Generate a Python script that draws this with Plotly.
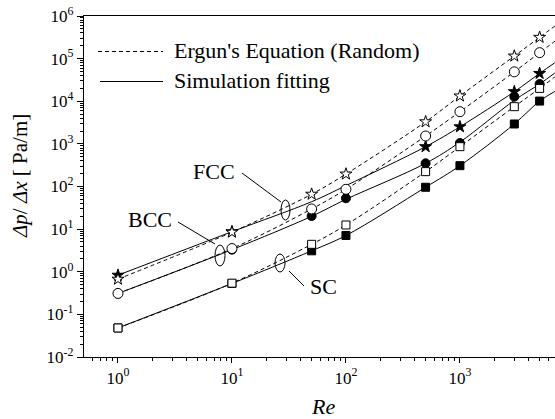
import plotly.graph_objects as go

# Reynolds numbers of the measured / computed points
re_pts = [1, 10, 50, 100, 500, 1000, 3000, 5000]

# Ergun's equation (random packing), open markers
fcc_ergun = [0.67, 8.5, 66, 196, 3300, 13300, 115000, 316000]
bcc_ergun = [0.31, 3.5, 29.7, 86, 1530, 5690, 49000, 138000]
sc_ergun = [0.048, 0.54, 4.4, 12.5, 223, 860, 7460, 20000]

# Simulation results, filled markers
fcc_sim = [0.83, 8.7, None, None, 860, 2520, 16800, 45000]
bcc_sim = [0.31, 3.3, 20.3, 53, 350, 1050, 12800, 25400]
sc_sim = [0.048, 0.53, 3.1, 7.1, 96, 308, 2930, 10100]

# Curves (extend a little past the last point)
re_line = [1, 10, 50, 100, 500, 1000, 3000, 5000, 6800]
fcc_ergun_line = fcc_ergun + [580000]
bcc_ergun_line = bcc_ergun + [255000]
sc_ergun_line = sc_ergun + [37000]
fcc_sim_line = [0.83, 8.7, 44, 105, 860, 2520, 16800, 45000, 80000]
bcc_sim_line = [0.31, 3.3, 20, 50, 350, 1100, 10500, 25400, 46000]
sc_sim_line = [0.048, 0.53, 3.1, 7.1, 96, 308, 2930, 10100, 17000]

# Tick labels
x_tickvals = [1, 10, 100, 1000]
x_ticktext = ["10<sup>0</sup>", "10<sup>1</sup>", "10<sup>2</sup>", "10<sup>3</sup>"]
y_tickvals = [1e-2, 1e-1, 1, 10, 100, 1e3, 1e4, 1e5, 1e6]
y_ticktext = ["10<sup>-2</sup>", "10<sup>-1</sup>", "10<sup>0</sup>", "10<sup>1</sup>",
              "10<sup>2</sup>", "10<sup>3</sup>", "10<sup>4</sup>", "10<sup>5</sup>",
              "10<sup>6</sup>"]

W, H = 555, 419
ML, MR, MT, MB = 84, 0, 16, 62
PW, PH = W - ML - MR, H - MT - MB
FONT = "Liberation Serif"
TXT = 22


def px(x):
    return (x - ML) / PW


def py(y):
    return (H - MB - y) / PH


fig = go.Figure()

dash = "4px,3px"
for ys, style in [(fcc_ergun_line, dash), (bcc_ergun_line, dash), (sc_ergun_line, dash),
                  (fcc_sim_line, "solid"), (bcc_sim_line, "solid"), (sc_sim_line, "solid")]:
    fig.add_trace(go.Scatter(x=re_line, y=ys, mode="lines",
                             line=dict(color="black", width=1, dash=style, shape="spline"),
                             hoverinfo="skip"))

# filled markers first, open markers drawn over them
for ys, sym, size in [(fcc_sim, "star", 9), (bcc_sim, "circle", 9), (sc_sim, "square", 8)]:
    fig.add_trace(go.Scatter(x=re_pts, y=ys, mode="markers",
                             marker=dict(symbol=sym, size=size, color="black",
                                         line=dict(color="black", width=1))))
for ys, sym, size in [(fcc_ergun, "star", 9), (bcc_ergun, "circle", 10), (sc_ergun, "square", 8)]:
    fig.add_trace(go.Scatter(x=re_pts, y=ys, mode="markers",
                             marker=dict(symbol=sym, size=size, color="white",
                                         line=dict(color="black", width=1))))

minor_x = [m * 10 ** e for e in range(-1, 4) for m in range(2, 10)]
minor_y = [m * 10.0 ** e for e in range(-2, 6) for m in range(2, 10)]

fig.update_xaxes(type="log", range=[-0.298, 3.834], showline=True, linecolor="black",
                 linewidth=1.2, mirror=True, ticks="outside", ticklen=5, tickwidth=1,
                 tickcolor="black", tickvals=x_tickvals, ticktext=x_ticktext,
                 tickfont=dict(family=FONT, size=17, color="black"),
                 showgrid=False, zeroline=False,
                 minor=dict(tickvals=minor_x, ticks="outside", ticklen=3, tickwidth=1,
                            tickcolor="black", showgrid=False))
fig.update_yaxes(type="log", range=[-2, 6], showline=True, linecolor="black",
                 linewidth=1.2, mirror=False, ticks="outside", ticklen=6, tickwidth=1,
                 tickcolor="black", tickvals=y_tickvals, ticktext=y_ticktext,
                 tickfont=dict(family=FONT, size=17, color="black"),
                 showgrid=False, zeroline=False,
                 minor=dict(tickvals=minor_y, ticks="outside", ticklen=3, tickwidth=1,
                            tickcolor="black", showgrid=False))

shapes = []
annotations = []

# legend
shapes.append(dict(type="line", xref="paper", yref="paper", x0=px(98), x1=px(163),
                   y0=py(51.5), y1=py(51.5), line=dict(color="black", width=1, dash=dash)))
shapes.append(dict(type="line", xref="paper", yref="paper", x0=px(100), x1=px(163),
                   y0=py(81.5), y1=py(81.5), line=dict(color="black", width=1)))
annotations.append(dict(xref="paper", yref="paper", x=px(172), y=py(50), xanchor="left",
                        yanchor="middle", text="Ergun's Equation (Random)", showarrow=False,
                        font=dict(family=FONT, size=TXT, color="black")))
annotations.append(dict(xref="paper", yref="paper", x=px(172), y=py(80), xanchor="left",
                        yanchor="middle", text="Simulation fitting", showarrow=False,
                        font=dict(family=FONT, size=TXT, color="black")))

# group labels, leader lines and ellipses
for label, (tx, ty), (lx0, ly0, lx1, ly1), (ex, ey, ew, eh) in [
    ("FCC", (214, 171), (242, 173, 281, 202), (285.5, 210, 9, 20)),
    ("BCC", (150, 219), (178, 222, 215, 244), (220, 255.5, 10, 21)),
    ("SC", (323, 286), (289, 271, 304, 286), (280, 263, 10, 18)),
]:
    annotations.append(dict(xref="paper", yref="paper", x=px(tx), y=py(ty), xanchor="center",
                            yanchor="middle", text=label, showarrow=False,
                            font=dict(family=FONT, size=TXT, color="black")))
    shapes.append(dict(type="line", xref="paper", yref="paper", x0=px(lx0), y0=py(ly0),
                       x1=px(lx1), y1=py(ly1), line=dict(color="black", width=1)))
    shapes.append(dict(type="circle", xref="paper", yref="paper",
                       x0=px(ex - ew / 2), x1=px(ex + ew / 2),
                       y0=py(ey + eh / 2), y1=py(ey - eh / 2),
                       line=dict(color="black", width=1)))

# axis titles
annotations.append(dict(xref="paper", yref="paper", x=px(323), y=py(406), xanchor="center",
                        yanchor="middle", text="<i>Re</i>", showarrow=False,
                        font=dict(family=FONT, size=TXT, color="black")))
annotations.append(dict(xref="paper", yref="paper", x=px(20), y=py(176), xanchor="center",
                        yanchor="middle", text="<i>Δp</i>/ <i>Δx</i> [ Pa/m]", textangle=-90,
                        showarrow=False, font=dict(family=FONT, size=21, color="black")))

fig.update_layout(width=W, height=H, margin=dict(l=ML, r=MR, t=MT, b=MB),
                  plot_bgcolor="white", paper_bgcolor="white", showlegend=False,
                  font=dict(family=FONT, color="black"),
                  shapes=shapes, annotations=annotations)

fig.write_html("out.html")
